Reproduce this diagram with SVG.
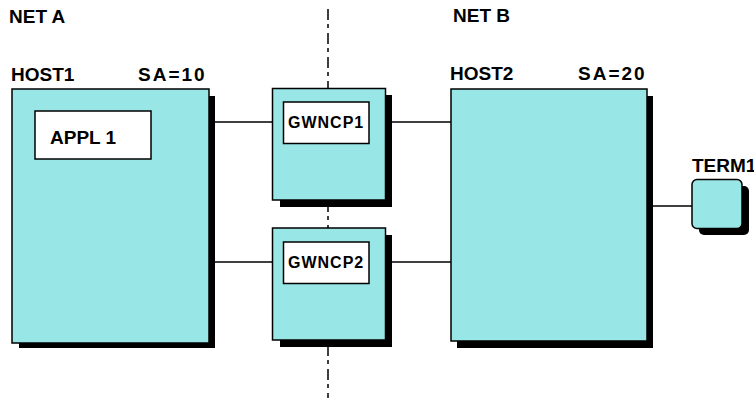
<svg xmlns="http://www.w3.org/2000/svg" width="754" height="398" viewBox="0 0 754 398">
<style>
.lbl{font-family:"Liberation Sans",Arial,sans-serif;font-weight:bold;font-size:19px;fill:#000}
.in{font-family:"Liberation Sans",Arial,sans-serif;font-weight:bold;font-size:16px;letter-spacing:1px;fill:#000}
.box{fill:#99e6e6;stroke:#000;stroke-width:1.5}
.wbox{fill:#fff;stroke:#000;stroke-width:1.5}
.sh{fill:#000}
.ln{stroke:#000;stroke-width:1.5;fill:none}
</style>
<rect width="754" height="398" fill="#fff"/>
<text class="lbl" x="9" y="23">NET A</text>
<text class="lbl" x="453" y="22">NET B</text>
<g id="connectors">
<line class="ln" x1="328" y1="9" x2="328" y2="398" stroke-width="2" stroke-dasharray="11 4 4 5"/>
<line class="ln" x1="215" y1="122" x2="272" y2="122"/>
<line class="ln" x1="215" y1="262" x2="272" y2="262"/>
<line class="ln" x1="391" y1="122" x2="451" y2="122"/>
<line class="ln" x1="391" y1="262" x2="451" y2="262"/>
<line class="ln" x1="653" y1="206" x2="692" y2="206"/>
</g>
<g id="host1">
<rect class="sh" x="19" y="96" width="196" height="252"/>
<rect class="box" x="12" y="89" width="197" height="254"/>
<text class="lbl" x="11" y="81">HOST1</text>
<text class="lbl" x="138" y="81" letter-spacing="2">SA=10</text>
<rect class="wbox" x="35" y="111" width="116" height="48"/>
<text class="lbl" x="50" y="144">APPL 1</text>
</g>
<g id="gwncp1">
<rect class="sh" x="280" y="95" width="112" height="112"/>
<rect class="box" x="272.5" y="88.5" width="113" height="111.5"/>
<rect class="wbox" x="283.5" y="102" width="85.5" height="41.5"/>
<text class="in" x="288" y="128">GWNCP1</text>
</g>
<g id="gwncp2">
<rect class="sh" x="280" y="235" width="112" height="112"/>
<rect class="box" x="272.5" y="228" width="113" height="112"/>
<rect class="wbox" x="283.5" y="242" width="85.5" height="41.5"/>
<text class="in" x="288" y="268">GWNCP2</text>
</g>
<g id="host2">
<rect class="sh" x="457" y="96" width="196" height="252"/>
<rect class="box" x="451" y="89" width="196" height="252"/>
<text class="lbl" x="450" y="80">HOST2</text>
<text class="lbl" x="578" y="80" letter-spacing="2">SA=20</text>
</g>
<g id="term1">
<rect class="sh" x="699" y="186" width="50" height="49" rx="5"/>
<rect class="box" x="692" y="179.5" width="50" height="49" rx="5"/>
<text class="lbl" x="692" y="172">TERM1</text>
</g>
</svg>
